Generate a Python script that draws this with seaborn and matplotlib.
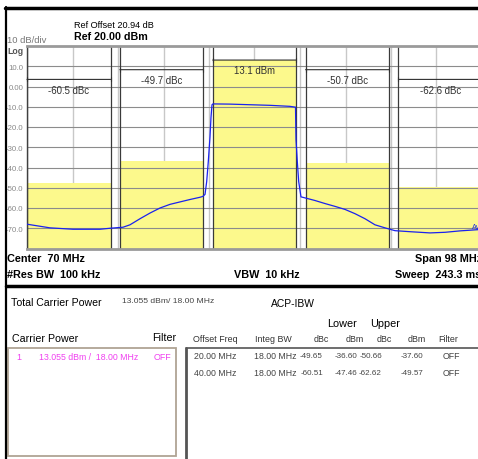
import matplotlib
matplotlib.use('Agg')
import matplotlib.pyplot as plt
import matplotlib.patches as patches
import seaborn as sns

W, H = 478, 460

# trace (MHz, dBm)
FREQ = [21.0, 25.95, 30.91, 36.72, 38.88, 41.68, 43.18, 45.34, 47.49, 49.65,
        51.80, 53.95, 56.11, 58.26, 58.84, 59.34, 59.70, 60.05, 60.41, 60.63,
        60.85, 61.06, 64.72, 69.03, 73.34, 77.64, 78.83, 78.94, 79.22, 79.52,
        80.01, 80.87, 83.03, 85.18, 87.34, 89.49, 91.64, 93.80, 95.95, 98.10,
        100.26, 103.49, 107.80, 111.03, 114.26, 118.13, 119.0]
LEVEL = [-68.0, -69.8, -70.5, -70.5, -70.0, -69.5, -68.3, -65.3, -62.5, -60.0,
         -58.2, -57.0, -55.8, -54.7, -54.3, -53.3, -47.0, -37.0, -25.0, -15.3,
         -9.0, -8.6, -8.7, -9.0, -9.3, -9.8, -10.2, -26.2, -37.0, -47.0,
         -54.5, -55.0, -56.3, -57.8, -59.2, -60.7, -62.8, -65.3, -68.3, -69.8,
         -71.2, -71.7, -72.3, -72.0, -71.3, -70.7, -70.5]

# channels
CH_CENTER = [30, 50, 70, 90, 110]
CH_BW = 18.0
CH_POWER = [-47.46, -36.60, 13.055, -37.60, -49.57]
CH_LABEL = ['-60.5 dBc', '-49.7 dBc', '13.1 dBm', '-50.7 dBc', '-62.6 dBc']

YTICKS = [20, 10, 0, -10, -20, -30, -40, -50, -60, -70, -80]
YTICKLABELS = ['', '10.0', '0.00', '-10.0', '-20.0', '-30.0', '-40.0', '-50.0', '-60.0', '-70.0', '']

# ACP table
OFFSET_FREQ = ['20.00 MHz', '40.00 MHz']
INTEG_BW = ['18.00 MHz', '18.00 MHz']
LOWER_DBC = ['-49.65', '-60.51']
LOWER_DBM = ['-36.60', '-47.46']
UPPER_DBC = ['-50.66', '-62.62']
UPPER_DBM = ['-37.60', '-49.57']
FILTER = ['OFF', 'OFF']

sns.set_style('white')
FONT = ['Liberation Sans', 'DejaVu Sans']
plt.rcParams['font.family'] = FONT

fig = plt.figure(figsize=(W / 100, H / 100), dpi=100)
fig.patch.set_facecolor('white')


def txt(x, y, s, size=7.0, color='black', bold=False, ha='left'):
    fig.text(x / W, 1 - y / H, s, fontsize=size, color=color, ha=ha, va='center',
             fontweight='bold' if bold else 'normal', family=FONT)


def hline(x0, x1, y, lw=1, color='black'):
    fig.add_artist(plt.Line2D([x0 / W, x1 / W], [1 - y / H, 1 - y / H],
                              transform=fig.transFigure, lw=lw, color=color))


def vline(x, y0, y1, lw=1, color='black'):
    fig.add_artist(plt.Line2D([x / W, x / W], [1 - y0 / H, 1 - y1 / H],
                              transform=fig.transFigure, lw=lw, color=color))


# spectrum axes (runs slightly past the right edge like the screen grab)
left, right, top, bottom = 27, 482, 47, 249.5
ax = fig.add_axes([left / W, 1 - bottom / H, (right - left) / W, (bottom - top) / H])
ax.set_xlim(21, 119)
ax.set_ylim(-80, 20)

for k in range(1, 10):
    ax.axvline(21 + 9.8 * k, color='#c8c8c8', lw=1, zorder=0.5)
for v in range(-70, 20, 10):
    ax.axhline(v, color='#8c8c8c', lw=0.8, zorder=1.5)

ax.bar(CH_CENTER, [p + 80 for p in CH_POWER], bottom=-80, width=CH_BW,
       color='#fcf98c', edgecolor='none', zorder=1)

for c in CH_CENTER:
    for e in (c - CH_BW / 2, c + CH_BW / 2):
        ax.axvline(e, color='#3a3a3a', lw=0.9, zorder=2)

sns.lineplot(x=FREQ, y=LEVEL, ax=ax, color='#1a22ee', lw=0.9, zorder=3)

# measurement markers
line_y = {0: 3.5, 1: 8.3, 2: None, 3: 8.3, 4: 3.5}
lab_y = {0: -1.8, 1: 3.2, 2: 8.1, 3: 3.2, 4: -1.8}
for i, c in enumerate(CH_CENTER):
    yl = line_y[i] if line_y[i] is not None else CH_POWER[i]
    ax.annotate('', xy=(c - CH_BW / 2, yl), xytext=(c + CH_BW / 2, yl),
                arrowprops=dict(arrowstyle='|-|,widthA=0.15,widthB=0.15', lw=0.8,
                                color='#303030', shrinkA=0, shrinkB=0), zorder=4)
    ax.text(c, lab_y[i], CH_LABEL[i], ha='center', va='center', fontsize=6.9,
            color='#303030', zorder=4)

ax.text(116.8, -69.2, 'Average', fontsize=5.3, color='#2030e0', va='center', ha='left',
        clip_on=False)

ax.set_yticks(YTICKS)
ax.set_yticklabels(YTICKLABELS)
ax.set_xticks([])
ax.tick_params(axis='y', length=0, pad=2.5, labelsize=5.6, labelcolor='#888888')
ax.set_xlabel('')
ax.set_ylabel('')
for s in ('top', 'bottom'):
    ax.spines[s].set_color('#9a9a9a')
    ax.spines[s].set_linewidth(2)
ax.spines['left'].set_color('#404040')
ax.spines['left'].set_linewidth(1)
ax.spines['right'].set_visible(False)

# header
hline(5, W, 8.5, lw=2.5)
vline(6, 8, H, lw=1.6)
txt(74, 26, 'Ref Offset 20.94 dB', size=6.6)
txt(74, 37.5, 'Ref 20.00 dBm', size=7.7, bold=True)
txt(7, 40.5, '10 dB/div', size=6.8, color='#777777')
txt(7, 51, 'Log', size=6.3, color='#555555', bold=True)

# footer of spectrum
txt(7, 259, 'Center  70 MHz', size=7.8, bold=True)
txt(7, 275, '#Res BW  100 kHz', size=7.8, bold=True)
txt(234, 275, 'VBW  10 kHz', size=7.8, bold=True)
txt(415, 259, 'Span 98 MHz', size=7.8, bold=True)
txt(395, 275, 'Sweep  243.3 ms', size=7.8, bold=True)
hline(6, W, 287, lw=2.5)

# measurement summary
txt(11, 303, 'Total Carrier Power', size=7.6)
txt(122, 302, '13.055 dBm/ 18.00 MHz', size=6.1, color='#444444')
txt(271, 304, 'ACP-IBW', size=7.4)
txt(12, 339, 'Carrier Power', size=7.7)
txt(152, 338, 'Filter', size=7.7)

fig.add_artist(patches.Rectangle((8 / W, 1 - 457 / H), (176 - 8) / W, (457 - 349) / H,
                                 transform=fig.transFigure, fill=False,
                                 edgecolor='#b0a494', lw=1.3))
mag = '#f040f0'
txt(16, 357.5, '1', size=6.4, color=mag)
txt(39, 357.5, '13.055 dBm /  18.00 MHz', size=6.3, color=mag)
txt(154, 357.5, 'OFF', size=6.4, color=mag)

txt(327, 324, 'Lower', size=7.8)
txt(370, 324, 'Upper', size=7.8)
hdr = [(193, 'Offset Freq'), (255, 'Integ BW'), (314, 'dBc'), (346, 'dBm'),
       (377, 'dBc'), (408, 'dBm'), (438, 'Filter')]
for x, s in hdr:
    txt(x, 340, s, size=6.4, color='#333333')

hline(186, W, 349, lw=1.2, color='#555555')
vline(186, 349, H, lw=2, color='#555555')

left_cols = [(194, OFFSET_FREQ), (254, INTEG_BW), (443, FILTER)]
right_cols = [(323, LOWER_DBC), (357.5, LOWER_DBM), (382, UPPER_DBC), (423, UPPER_DBM)]
for r, y in enumerate([356.5, 373.5]):
    for x, vals in left_cols:
        txt(x, y, vals[r], size=6.3, color='#444444')
    for x, vals in right_cols:
        txt(x, y, vals[r], size=5.8, color='#444444', ha='right')

fig.savefig('out.png', dpi=100)
